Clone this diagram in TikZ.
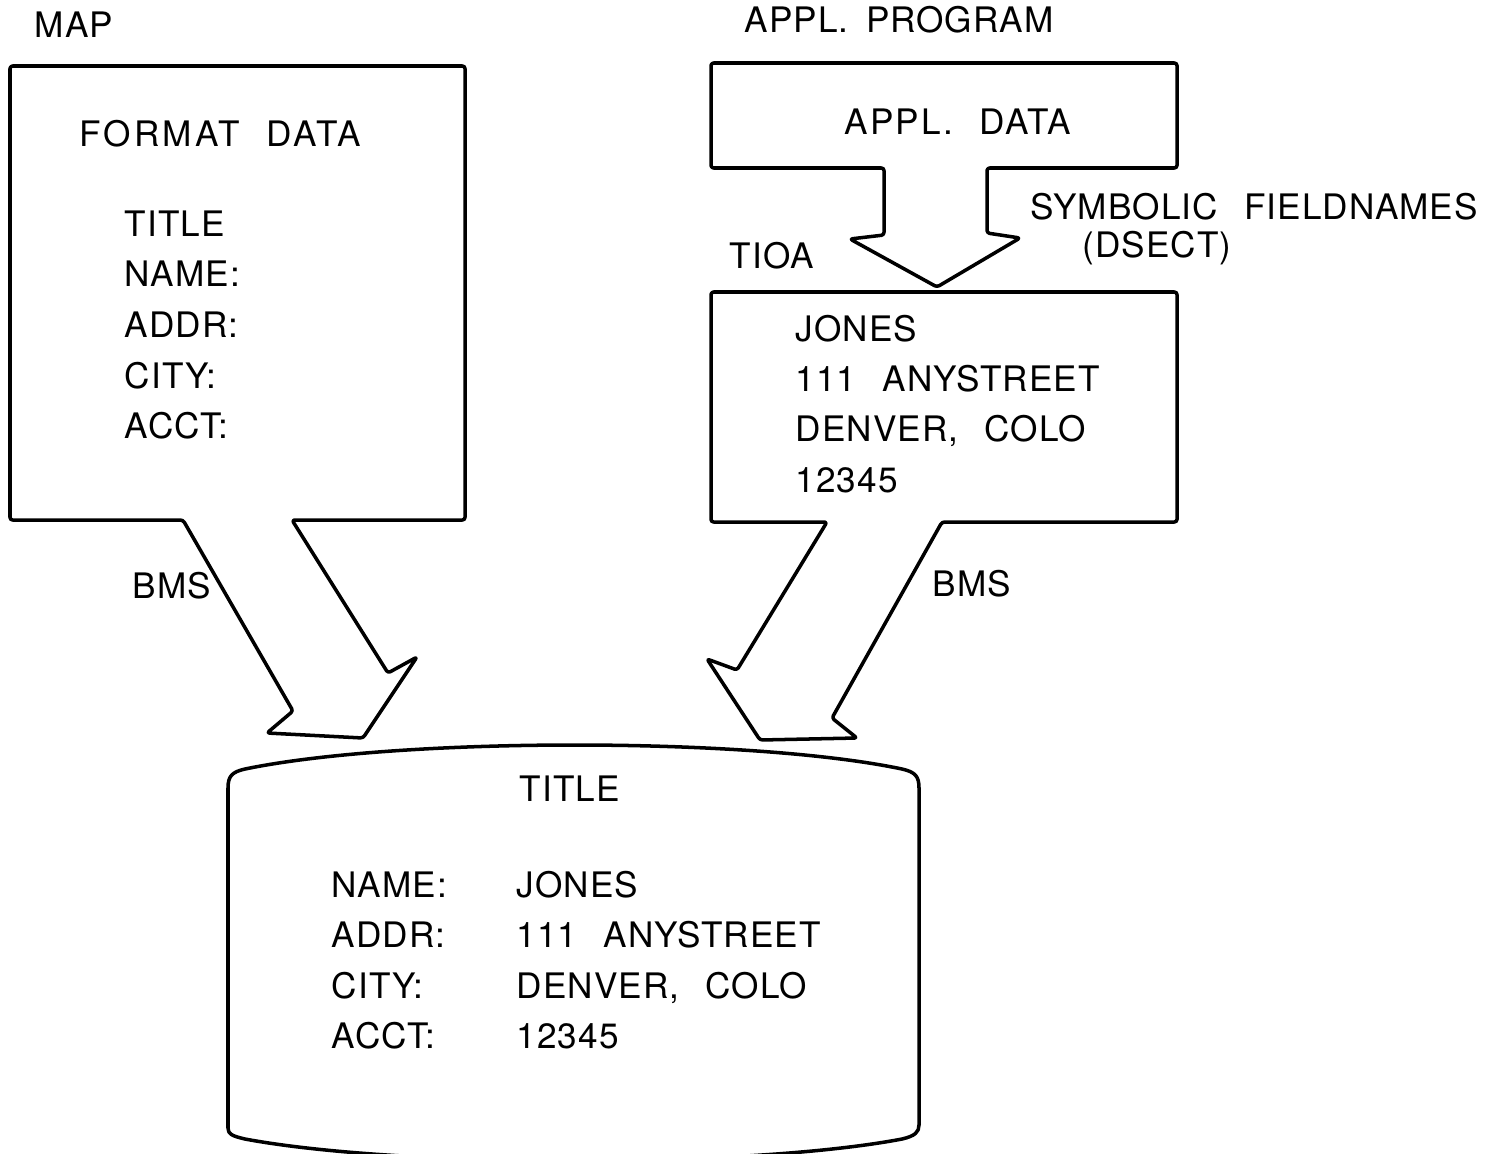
\documentclass[tikz,border=0pt]{standalone}
\usepackage{fontspec}
\setmainfont{TeX Gyre Heros}[LetterSpace=3]
\newcommand\wgap{\hspace{0.75em}}
\begin{document}
\begin{tikzpicture}[x=0.02cm, y=-0.02cm, line width=2pt, line join=round,
  lbl/.style={anchor=base west, inner sep=0pt, font=\fontsize{20}{24}\selectfont},
  outline/.style={draw=black, rounded corners=1.5pt}]
\useasboundingbox (0,0) rectangle (1486,1153);
\clip (0,0) rectangle (1486,1153);

% corner points of the block shapes
\coordinate (mapL) at (183,520);
\coordinate (mapR) at (292,520);
\coordinate (applL) at (884,168);
\coordinate (applR) at (987,168);
\coordinate (tioaL) at (827,522);
\coordinate (tioaR) at (942,522);

% map box with its BMS block arrow
\draw[outline] (mapR) -- (465,520) -- (465,66) -- (10,66) -- (10,520) -- (mapL)
  -- (293,711) -- (267,733) -- (363,738) -- (417,657) -- (388,673) -- cycle;

% application data box with the arrow into the I/O area
\draw[outline] (applL) -- (711,168) -- (711,63) -- (1177,63) -- (1177,168) -- (applR)
  -- (987,233) -- (1020,238) -- (937,287) -- (850,239) -- (884,235) -- cycle;

% terminal I/O area box with its BMS block arrow
\draw[outline] (tioaL) -- (711,522) -- (711,292) -- (1177,292) -- (1177,522) -- (tioaR)
  -- (832,718) -- (857,738) -- (760,740) -- (707,659) -- (737,670) -- cycle;

% screen drum
\draw (228,1128) -- (228,788)
  .. controls (228,776) and (232,772) .. (245,769)
  .. controls (400,737) and (750,737) .. (902,769)
  .. controls (915,772) and (919,776) .. (919,788)
  -- (919,1125)
  .. controls (919,1132) and (915,1136) .. (902,1139)
  .. controls (750,1168) and (400,1168) .. (245,1139)
  .. controls (232,1136) and (228,1134) .. cycle;

% labels
\node[lbl] (tmap) at (33,37) {MAP};
\node[lbl] (tprog) at (743,32) {APPL.\hspace{0.5em}PROGRAM};
\node[lbl] (tfmt) at (78,146) {\addfontfeature{LetterSpace=9}FORMAT\wgap DATA};
\node[lbl] (mtitle) at (123,236) {TITLE};
\node[lbl] (mname) at (123,286) {NAME:};
\node[lbl] (maddr) at (123,337) {ADDR:};
\node[lbl] (mcity) at (123,388) {CITY:};
\node[lbl] (macct) at (123,438) {ACCT:};
\node[lbl] (tappl) at (843,134) {\addfontfeature{LetterSpace=6}APPL.\wgap DATA};
\node[lbl] (tsym) at (1029,219) {SYMBOLIC\wgap FIELDNAMES};
\node[lbl] (tdsect) at (1081,257) {(DSECT)};
\node[lbl] (ttioa) at (728,268) {TIOA};
\node[lbl] (djones) at (794,341) {JONES};
\node[lbl] (dstreet) at (794,391) {111\wgap ANYSTREET};
\node[lbl] (dcity) at (794,441) {DENVER,\wgap COLO};
\node[lbl] (dacct) at (794,492) {12345};
\node[lbl] (bmsL) at (131,598) {BMS};
\node[lbl] (bmsR) at (931,596) {BMS};
\node[lbl] (stitle) at (518,801) {TITLE};
\node[lbl] (sname) at (330,897) {NAME:};
\node[lbl] (saddr) at (330,947) {ADDR:};
\node[lbl] (scity) at (330,998) {CITY:};
\node[lbl] (sacct) at (330,1048) {ACCT:};
\node[lbl] (vjones) at (515,897) {JONES};
\node[lbl] (vstreet) at (515,947) {111\wgap ANYSTREET};
\node[lbl] (vcity) at (515,998) {DENVER,\wgap COLO};
\node[lbl] (vacct) at (515,1048) {12345};
\end{tikzpicture}
\end{document}
